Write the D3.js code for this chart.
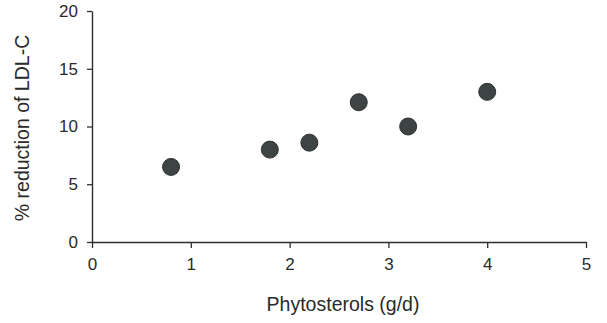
<!DOCTYPE html>
<html>
<head>
<meta charset="utf-8">
<script src="https://cdn.jsdelivr.net/npm/d3@7"></script>
<style>
  html, body { margin: 0; padding: 0; background: #fff; }
  svg { display: block; font-family: "Liberation Sans", Arial, sans-serif; }
</style>
</head>
<body>
<div id="chart"></div>
<script>
const doses = [0.8, 1.8, 2.2, 2.7, 3.2, 4.0];
const reductions = [6.5, 8.0, 8.6, 12.1, 10.0, 13.0];
const xTicks = [0, 1, 2, 3, 4, 5];
const yTicks = [0, 5, 10, 15, 20];

const W = 607, H = 323;
const margin = { top: 11, right: 21, bottom: 81, left: 92 };
const w = W - margin.left - margin.right;
const h = H - margin.top - margin.bottom;

const svg = d3.select("#chart").append("svg").attr("width", W).attr("height", H);
const g = svg.append("g").attr("transform", `translate(${margin.left},${margin.top})`);

const x = d3.scaleLinear().domain([0, 5]).range([0, w]);
const y = d3.scaleLinear().domain([0, 20]).range([h, 0]);

const axisColor = "#2e2e2e";

function styleAxis(sel) {
  sel.select(".domain").attr("stroke", axisColor).attr("stroke-width", 1.4);
  sel.selectAll(".tick line").attr("stroke", axisColor).attr("stroke-width", 1.3);
  sel.selectAll(".tick text").attr("fill", "#2a2a2a").attr("font-size", 17)
    .attr("font-family", "Liberation Sans, Arial, sans-serif");
}

g.append("g")
  .attr("transform", `translate(0,${h})`)
  .call(d3.axisBottom(x).tickValues(xTicks).tickSize(6).tickSizeOuter(0).tickPadding(10).tickFormat(d3.format("d")))
  .call(styleAxis);

g.append("g")
  .call(d3.axisLeft(y).tickValues(yTicks).tickSize(5).tickSizeOuter(0).tickPadding(9).tickFormat(d3.format("d")))
  .call(styleAxis);

// points
g.selectAll("circle.pt")
  .data(doses.map((d, i) => ({ x: d, y: reductions[i] })))
  .join("circle")
  .attr("class", "pt")
  .attr("cx", d => x(d.x))
  .attr("cy", d => y(d.y))
  .attr("r", 8.5)
  .attr("fill", "#3d4443")
  .attr("stroke", "#2c3131")
  .attr("stroke-width", 1);

// axis titles
svg.append("text")
  .attr("x", 343)
  .attr("y", 311)
  .attr("text-anchor", "middle")
  .attr("font-size", 19.5)
  .attr("fill", "#2a2a2a")
  .text("Phytosterols (g/d)");

svg.append("text")
  .attr("transform", `translate(29,128) rotate(-90)`)
  .attr("text-anchor", "middle")
  .attr("font-size", 19.5)
  .attr("fill", "#2a2a2a")
  .text("% reduction of LDL-C");
</script>
</body>
</html>
